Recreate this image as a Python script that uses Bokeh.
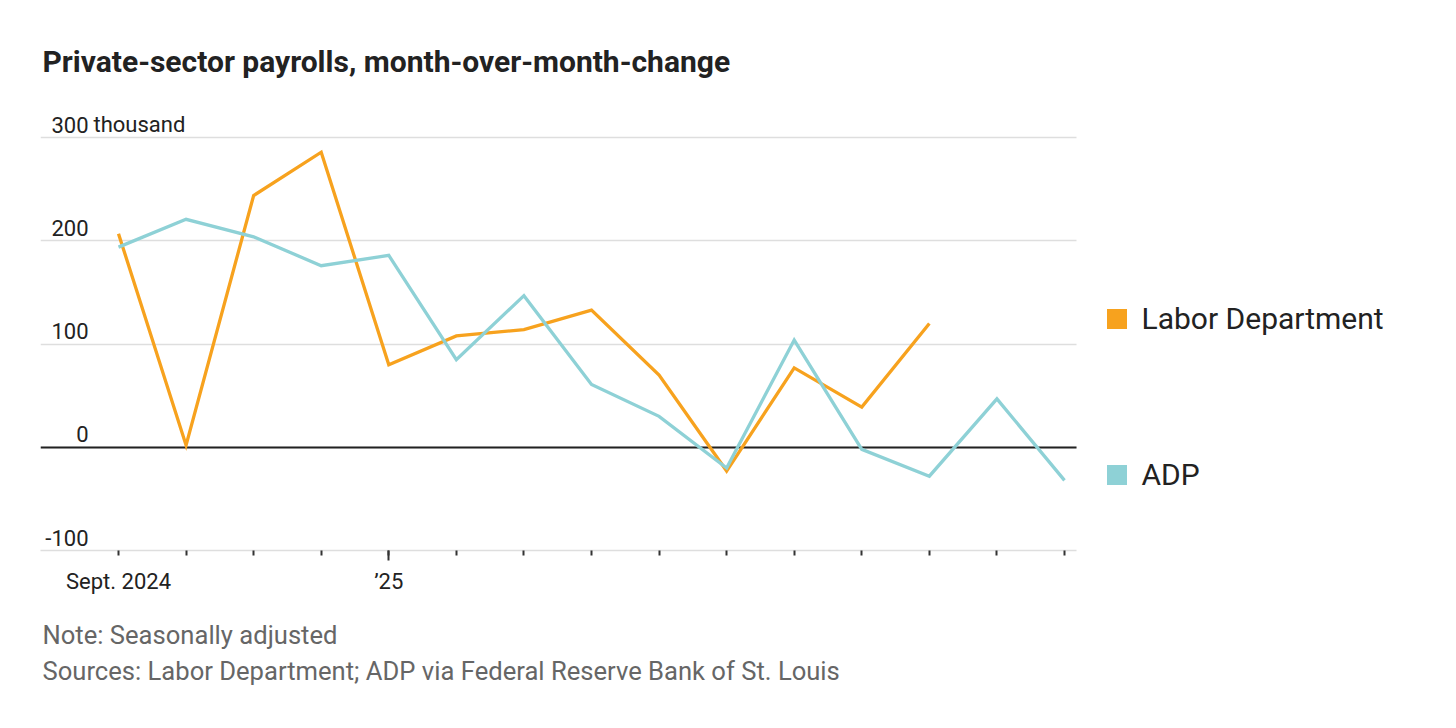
from bokeh.plotting import figure
from bokeh.models import (Range1d, FixedTicker, Grid, Title, Legend, LegendItem,
                          ColumnDataSource)
from bokeh.core.properties import value
from bokeh.embed import file_html
from bokeh.resources import INLINE

# ---------------- data ----------------
months = ["Sept. 2024", "Oct. 2024", "Nov. 2024", "Dec. 2024", "Jan. 2025",
          "Feb. 2025", "Mar. 2025", "Apr. 2025", "May 2025", "June 2025",
          "July 2025", "Aug. 2025", "Sept. 2025", "Oct. 2025", "Nov. 2025"]
labor_dept = [207, 2, 244, 286, 80, 108, 114, 133, 70, -23, 77, 39, 120]
adp = [194, 221, 204, 176, 186, 85, 147, 61, 30, -20, 104, -2, -28, 47, -32]
x_tick_labels = {0: "Sept. 2024", 4: "\u201925"}
y_ticks = [-100, 0, 100, 200, 300]
y_tick_labels = ["-100", "0", "100", "200", "300"]
y_unit = "thousand"
series_names = ["Labor Department", "ADP"]

title_text = "Private-sector payrolls, month-over-month-change"
note_text = "Note: Seasonally adjusted"
source_text = "Sources: Labor Department; ADP via Federal Reserve Bank of St. Louis"

ORANGE = "#F7A21E"
TEAL = "#8ED1D6"
FONT = "Roboto"
INK = "#222222"
GREY = "#666666"
GRID = "#dedede"

# ---------------- layout ----------------
W, H = 1440, 712
F_LEFT, PLOT_RIGHT, F_TOP, F_BOTTOM = 40, 1076, 96, 550
X0_PX, PX_PER_MONTH = 118.0, (1064 - 118) / 14.0
Y_START, Y_END = -100, 340


def X(px):
    return (px - X0_PX) / PX_PER_MONTH


p = figure(width=W, height=H, output_backend="svg", toolbar_location=None,
           x_range=Range1d(X(F_LEFT), X(W)), y_range=Range1d(Y_START, Y_END),
           y_axis_location=None, min_border_left=F_LEFT, min_border_right=0,
           min_border_top=F_TOP, min_border_bottom=H - F_BOTTOM,
           background_fill_color="white", border_fill_color="white")
p.outline_line_color = None
p.xgrid.visible = False

plot_bounds = (X(F_LEFT), X(PLOT_RIGHT))
g = p.ygrid[0]
g.ticker = FixedTicker(ticks=y_ticks)
g.grid_line_color = GRID
g.grid_line_width = 1.5
if "cross_bounds" in g.properties():
    g.cross_bounds = plot_bounds
    zero = Grid(dimension=1, ticker=FixedTicker(ticks=[0]), grid_line_color=INK,
                grid_line_width=2, cross_bounds=plot_bounds)
    p.add_layout(zero)
else:
    g.visible = False
    n = len(y_ticks)
    p.segment(x0=[plot_bounds[0]] * n, x1=[plot_bounds[1]] * n, y0=y_ticks, y1=y_ticks,
              line_color=[INK if t == 0 else GRID for t in y_ticks],
              line_width=[2 if t == 0 else 1.5 for t in y_ticks])

# x axis
xa = p.xaxis[0]
xa.bounds = plot_bounds
xa.ticker = FixedTicker(ticks=list(range(len(months))), minor_ticks=[4])
xa.major_label_overrides = {i: x_tick_labels.get(i, "") for i in range(len(months))}
xa.axis_line_color = GRID
xa.axis_line_width = 1.5
xa.major_tick_line_color = "#333333"
xa.major_tick_line_width = 2
xa.major_tick_out = 5
xa.major_tick_in = 0
xa.minor_tick_line_color = "#333333"
xa.minor_tick_line_width = 2
xa.minor_tick_out = 10
xa.minor_tick_in = 0
xa.major_label_text_font = FONT
xa.major_label_text_font_size = "22px"
xa.major_label_text_color = INK
xa.major_label_standoff = 8

# y tick labels
ysrc = ColumnDataSource(dict(x=[X(88)] * len(y_ticks), y=y_ticks, t=y_tick_labels))
p.text(x="x", y="y", text="t", source=ysrc, text_align="right",
       text_baseline="alphabetic", y_offset=-13, text_font=value(FONT),
       text_font_size="22px", text_color=INK)
p.text(x=[X(93)], y=[y_ticks[-1]], text=[y_unit], text_align="left",
       text_baseline="alphabetic", y_offset=-13, text_font=value(FONT),
       text_font_size="22px", text_color=INK)

# series
xs_l = list(range(len(labor_dept)))
xs_a = list(range(len(adp)))
p.line(xs_l, labor_dept, line_color=ORANGE, line_width=3.3, line_join="miter")
p.line(xs_a, adp, line_color=TEAL, line_width=3.3, line_join="miter")

# legend: square swatches from zero-area quads on the series points
sw1 = p.quad(left=xs_l, right=xs_l, top=labor_dept, bottom=labor_dept,
             fill_color=ORANGE, line_color=None)
sw2 = p.quad(left=xs_a, right=xs_a, top=adp, bottom=adp,
             fill_color=TEAL, line_color=None)
legend = Legend(items=[LegendItem(label=series_names[0], renderers=[sw1], index=0),
                       LegendItem(label=series_names[1], renderers=[sw2], index=0)],
                location=(1106 - 2.5 - F_LEFT, 58), orientation="vertical",
                glyph_width=25, glyph_height=25, spacing=121, padding=0, margin=0,
                label_standoff=13, label_text_font=FONT, label_text_font_size="30px",
                label_text_color=INK, border_line_color=None,
                background_fill_alpha=0)
p.add_layout(legend)

# title + notes
p.title.text = title_text
p.title.text_font = FONT
p.title.text_font_style = "bold"
p.title.text_font_size = "30px"
p.title.text_color = INK
p.title.align = "left"
p.title.offset = 2
p.title.standoff = 36

p.add_layout(Title(text=note_text + "\n" + source_text, text_font=FONT,
                   text_font_style="normal", text_font_size="25.6px",
                   text_line_height=1.2, text_color=GREY, align="left", offset=2,
                   standoff=42), "below")

open("out.html", "w").write(file_html(p, INLINE))
